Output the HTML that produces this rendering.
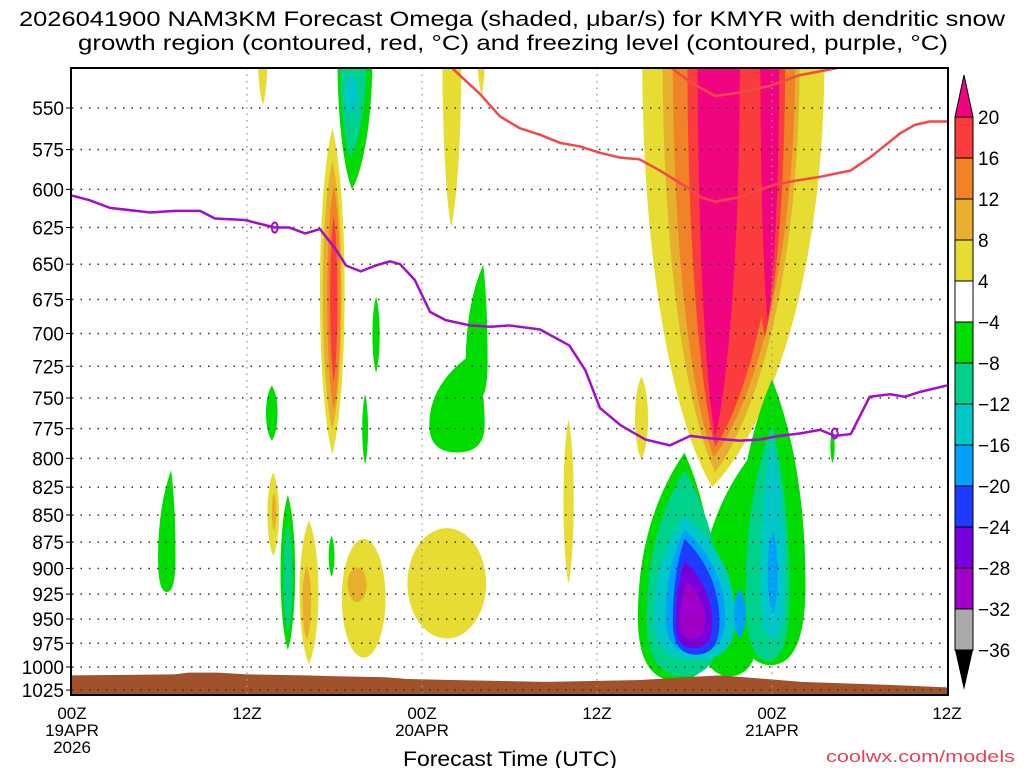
<!DOCTYPE html>
<html><head><meta charset="utf-8"><style>
body{margin:0;background:#fff;}
svg{display:block;font-family:"Liberation Sans",sans-serif;}
</style></head><body>
<svg id="chart" width="1024" height="768" viewBox="0 0 1024 768">
<text x="512" y="26" font-size="21" text-anchor="middle" textLength="986" lengthAdjust="spacingAndGlyphs">2026041900 NAM3KM Forecast Omega (shaded, μbar/s) for KMYR with dendritic snow</text>
<text x="513" y="50" font-size="21" text-anchor="middle" textLength="870" lengthAdjust="spacingAndGlyphs">growth region (contoured, red, °C) and freezing level (contoured, purple, °C)</text>
<defs><clipPath id="pc"><rect x="71" y="68" width="877" height="627"/></clipPath></defs>
<g id="plot" clip-path="url(#pc)"></g>
<g id="grid"></g>
<g id="lines" clip-path="url(#pc)"></g>
<rect x="71" y="68" width="877" height="627" fill="none" stroke="#000" stroke-width="2"/>
<g id="axes"></g>
<g id="cbar"></g>
<text x="510" y="766" font-size="21" text-anchor="middle" textLength="214" lengthAdjust="spacingAndGlyphs">Forecast Time (UTC)</text>
<text x="1015" y="762" font-size="17" fill="#e8405a" text-anchor="end" textLength="189" lengthAdjust="spacingAndGlyphs">coolwx.com/models</text>
</svg>
<script>
const pressureTicks=[550,575,600,625,650,675,700,725,750,775,800,825,850,875,900,925,950,975,1000,1025];
const timeTicks=[0,12,24,36,48,60];
const timeLabels=["00Z","12Z","00Z","12Z","00Z","12Z"];
const dateLabels=["19APR","","20APR","","21APR",""];
const cbarLevels=["20","16","12","8","4","−4","−8","−12","−16","−20","−24","−28","−32","−36"];
const cbarColors=["#fa3c3c","#f08228","#e6af2d","#e6dc32","#ffffff","#00dc00","#00d28c","#00c8c8","#00a0ff","#1e3cff","#7800dc","#a000c8","#aaaaaa"];
const levelColor={m:"#f0047f",r:"#fa3c3c",o:"#f08228",g:"#e6af2d",y:"#e6dc32",G:"#00dc00",T:"#00d28c",C:"#00c8c8",L:"#00a0ff",B:"#1e3cff",P:"#7800dc",V:"#a000c8"};
// [level, hourLeft, hourRight, pTop, pBottom, shape, tipHour]
const omegaBlobs=[
["y",12.75,13.4,520,548,"col",13.1],
["G",18.2,20.6,520,600,"col",19.2],
["T",18.4,20.2,520,580,"col",19.1],
["C",18.7,19.6,530,554,"lens"],
["y",17,18.7,562,797,"lens"],
["g",17.2,18.5,582,776,"lens"],
["o",17.5,18.4,598,760,"lens"],
["r",17.7,18.2,617,737,"lens"],
["y",25.4,26.7,520,625,"col",26.0],
["y",27.8,28.3,520,542,"col",28.1],
["G",27,28.5,650,752,"inv",28.2],
["G",24.5,28.3,715,795,"inv",27.5],
["G",20.6,21.1,673,730,"lens"],
["G",19.9,20.3,747,805,"lens"],
["G",13.3,14.1,740,785,"lens"],
["G",5.9,7.1,810,923,"inv",6.8],
["y",13.4,14.2,812,888,"lens"],
["g",13.7,14,830,865,"lens"],
["G",14.3,15.3,832,982,"lens"],
["T",14.5,15.1,858,963,"lens"],
["y",15.6,16.9,855,997,"lens"],
["g",15.8,16.4,897,971,"lens"],
["G",17.6,18,869,908,"lens"],
["y",18.5,21.5,872,990,"ell"],
["g",18.9,20.2,899,933,"ell"],
["y",23,28.4,862,970,"ell"],
["y",33.7,34.4,767,915,"lens"],
["y",38.6,39.5,733,801,"lens"],
["G",52,52.3,776,804,"lens"],
["y",39.1,51.6,520,825,"col",43.9],
["g",40.5,49.9,520,812,"col",44.1],
["o",41.2,49.6,520,799,"col",44.0],
["r",42.2,48.9,520,790,"col",44.1],
["m",42.9,45.8,520,782,"col",44.1],
["r",46.6,48.9,520,703,"col",47.5],
["m",47.2,48.5,520,690,"col",47.7],
["G",38.8,44.1,795,1015,"inv",42.0],
["G",43,47.2,800,1010,"inv",46.4],
["G",45.5,50.3,735,998,"inv",48.0],
["T",39.4,44.5,810,1010,"inv",42.0],
["T",46.2,49.2,772,993,"inv",48.0],
["C",39.9,45.5,850,993,"inv",42.0],
["C",47.2,48.9,785,970,"inv",48.0],
["L",40.7,44.8,863,985,"inv",42.0],
["L",45.4,46.2,920,970,"lens"],
["L",47.7,48.4,865,945,"lens"],
["B",41.2,44.4,872,987,"inv",42.0],
["P",41.4,43.9,893,980,"inv",42.0],
["V",41.7,43.4,912,970,"inv",42.2]
];
const surfHours=[0,7,8,10,11,12,16,18,21.5,23,26,32.5,39,42,44.5,50,55.5,60];
const surfPres=[1009,1008,1006,1006,1007,1008,1009,1010,1011,1013,1014,1016,1014,1011,1009,1016,1019,1022];
const frzHours=[0,1.2,2.6,5.35,7.06,8.78,9.8,11.86,13.9,14.9,16,17,18.1,18.8,19.8,20.8,21.8,22.5,23.5,24.55,25.6,27.3,28.7,30,32.1,34.1,35.2,36.2,37.6,39.3,41,42.4,43.7,45.8,47.2,48.5,49.9,51.3,52.3,53.4,54.7,56.1,57.1,58.2,60];
const frzPres=[604,607,612,615,614,614,619,620,625,625,629,626,640,651,655,651,648,650,661,684,690,694,695,694,697,709,728,758,772,784,789,781,783,785,784,781,779,776,781,779.5,749,747,749,745,740];
const dgzHours1=[26.06,28,29.35,30.7,32.1,33.5,34.8,36.2,37.6,38.9,40.3,41.7,42.4,43.1,44.1,45.8,47.2,48.2,49.9,51.3,53.4,54.7,55.4,56.8,57.8,58.8,60];
const dgzPres1=[527,542,555,562,566,571,573,577,580,581,588,596,600,605,608,605,600,597,594,592,588,580,575,565,560,558,558];
const dgzHours2=[41.1,42.4,44.1,45.8,47.9,49.9,52.5];
const dgzPres2=[527,535,543,541,537,531,527];

const NS="http://www.w3.org/2000/svg";
const X=h=>72+h*(875/60);
const Y=p=>108+935*Math.log(p/550);
function mk(tag,attrs,parent){const e=document.createElementNS(NS,tag);for(const k in attrs)e.setAttribute(k,attrs[k]);parent.appendChild(e);return e;}
const plot=document.getElementById('plot');
function shapePath(b){
  const x1=X(b[1]),x2=X(b[2]),y1=Y(b[3]),y2=Y(b[4]),k=b[5];
  const cx=(x1+x2)/2,h=y2-y1,w=(x2-x1)/2;
  if(k==="lens"){const d=w*1.33;return `M${cx},${y1} C${cx+d},${y1+h*0.2} ${cx+d},${y2-h*0.2} ${cx},${y2} C${cx-d},${y2-h*0.2} ${cx-d},${y1+h*0.2} ${cx},${y1}Z`;}
  if(k==="ell"){return `M${x1},${(y1+y2)/2} A${w},${h/2} 0 1 0 ${x2},${(y1+y2)/2} A${w},${h/2} 0 1 0 ${x1},${(y1+y2)/2}Z`;}
  const t=X(b[6]);
  if(k==="col"){return `M${x1},${y1} L${x2},${y1} C${x2},${y1+h*0.55} ${t+(x2-t)*0.45},${y2-h*0.12} ${t},${y2} C${t-(t-x1)*0.45},${y2-h*0.12} ${x1},${y1+h*0.55} ${x1},${y1}Z`;}
  return `M${t},${y1} Q${x2},${y1+h*0.3} ${x2},${y1+h*0.72} Q${x2},${y2} ${cx},${y2} Q${x1},${y2} ${x1},${y1+h*0.72} Q${x1},${y1+h*0.3} ${t},${y1}Z`;
}
omegaBlobs.forEach(b=>{
  const p=mk('path',{d:shapePath(b),fill:levelColor[b[0]]},plot);
  
  
});
let gd=`M${X(surfHours[0])},700 `;
surfHours.forEach((h,i)=>{gd+=`L${X(h)},${Y(surfPres[i])} `;});
gd+=`L${X(60)},700Z`;
const gp=mk('path',{d:gd,fill:"#a0522d"},plot);



const grid=document.getElementById('grid');
pressureTicks.forEach(p=>{
  const l=mk('line',{x1:72,x2:948,y1:Y(p),y2:Y(p),stroke:"#333","stroke-width":1.5,"stroke-dasharray":"1.5 7"},grid);
  
  
});
timeTicks.slice(1,5).forEach(h=>{
  const l=mk('line',{x1:X(h),x2:X(h),y1:68,y2:695,stroke:"#999","stroke-width":1.3,"stroke-dasharray":"1.5 5"},grid);
  
  
});
const lines=document.getElementById('lines');
function poly(hs,ps,color,w,name){
  const pts=hs.map((h,i)=>X(h)+','+Y(ps[i])).join(' ');
  const e=mk('polyline',{points:pts,fill:"none",stroke:color,"stroke-width":w,"stroke-linejoin":"round"},lines);
  
  
}
poly(dgzHours1,dgzPres1,"#f44848",2.5,'dgz-contour-1');
poly(dgzHours2,dgzPres2,"#f44848",2.5,'dgz-contour-2');
poly(frzHours,frzPres,"#a010c8",2.5,'freezing-level-line');
[[13.9,625],[52.3,779]].forEach(q=>{
  const e=mk('ellipse',{cx:X(q[0]),cy:Y(q[1]),rx:3,ry:5,fill:"none",stroke:"#a010c8","stroke-width":2},lines);
  
  
});
const axes=document.getElementById('axes');
pressureTicks.forEach(p=>{
  const t=mk('text',{x:64,y:Y(p)+7,"font-size":19,"text-anchor":"end"},axes);
  t.textContent=p;
  
  
  mk('line',{x1:66,x2:71,y1:Y(p),y2:Y(p),stroke:"#000"},axes);
});
timeTicks.forEach((h,i)=>{
  const t=mk('text',{x:X(h),y:719,"font-size":17,"text-anchor":"middle"},axes);
  t.textContent=timeLabels[i];
  
  
  if(dateLabels[i]){
    const d=mk('text',{x:X(h),y:736,"font-size":17,"text-anchor":"middle"},axes);
    d.textContent=dateLabels[i];
    
    
  }
});
const yr=mk('text',{x:X(0),y:753,"font-size":17,"text-anchor":"middle"},axes);
yr.textContent="2026";


const cb=document.getElementById('cbar');
const cx0=955,cw=18,ct=117,ch=41;
const cbTop=mk('path',{d:`M${cx0},${ct} L${cx0+cw/2},75 L${cx0+cw},${ct}Z`,fill:"#f0047f",stroke:"#000"},cb);


cbarColors.forEach((c,i)=>{
  const r=mk('rect',{x:cx0,y:ct+i*ch,width:cw,height:ch,fill:c,stroke:"#000"},cb);
  
  
});
const yb=ct+cbarColors.length*ch;
const cbBot=mk('path',{d:`M${cx0},${yb} L${cx0+cw/2},${yb+40} L${cx0+cw},${yb}Z`,fill:"#000"},cb);


cbarLevels.forEach((s,i)=>{
  const t=mk('text',{x:978,y:ct+i*ch+7,"font-size":19},cb);
  t.textContent=s;
  
  
});
</script>
</body></html>
